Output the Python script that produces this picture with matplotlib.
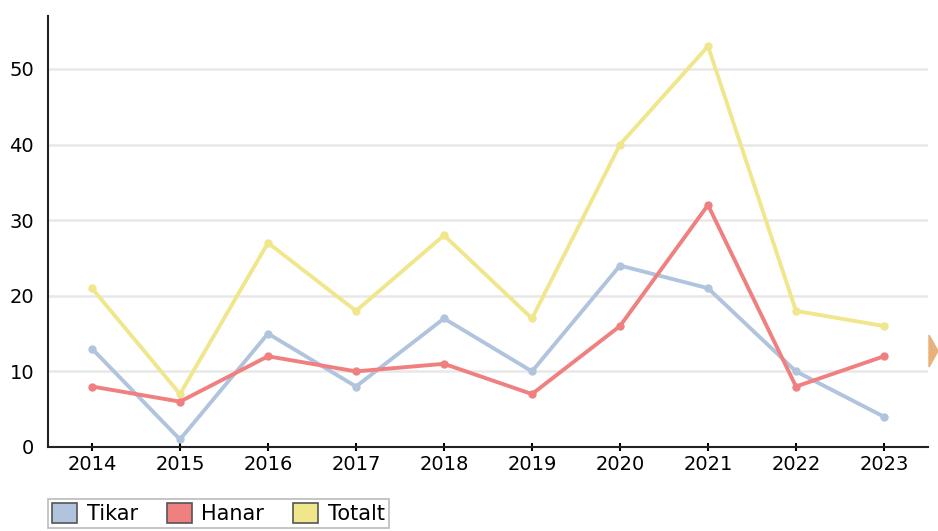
import matplotlib
matplotlib.use("Agg")
import matplotlib.pyplot as plt
from matplotlib.patches import Patch, Polygon

years = ["2014", "2015", "2016", "2017", "2018", "2019", "2020", "2021", "2022", "2023"]
tikar = [13, 1, 15, 8, 17, 10, 24, 21, 10, 4]
hanar = [8, 6, 12, 10, 11, 7, 16, 32, 8, 12]
totalt = [21, 7, 27, 18, 28, 17, 40, 53, 18, 16]

colors = {"Tikar": "#B0C4DE", "Hanar": "#F08080", "Totalt": "#F0E68C"}

fig = plt.figure(figsize=(9.38, 5.31), dpi=100)
ax = fig.add_axes([48 / 938, 1 - 447 / 531, 880 / 938, 431 / 531])

x = list(range(len(years)))
for name, vals in [("Totalt", totalt), ("Tikar", tikar), ("Hanar", hanar)]:
    ax.plot(x, vals, color=colors[name], lw=2.8, marker="o", ms=5,
            solid_joinstyle="round", zorder=3)

ax.set_xlim(-0.5, 9.5)
ax.set_ylim(0, 57)
ax.set_xticks(x)
ax.set_xticklabels(years)
ax.set_yticks([0, 10, 20, 30, 40, 50])
ax.yaxis.grid(True, color="#E8E8E8", lw=1.8)
ax.set_axisbelow(True)
ax.tick_params(axis="y", length=0, pad=10, labelsize=14)
ax.tick_params(axis="x", length=6, width=1.5, direction="inout", pad=3, labelsize=14)
for s in ["top", "right"]:
    ax.spines[s].set_visible(False)
for s in ["left", "bottom"]:
    ax.spines[s].set_linewidth(1.5)
    ax.spines[s].set_color("#222222")

handles = [Patch(facecolor=colors[n], edgecolor="#555555", lw=1.2, label=n)
           for n in ["Tikar", "Hanar", "Totalt"]]
leg = fig.legend(handles=handles, loc="upper left", bbox_to_anchor=(48 / 938, 1 - 499 / 531),
                 ncol=3, frameon=True, fancybox=False, fontsize=15, handlelength=1.2,
                 handleheight=1.1, handletextpad=0.45, columnspacing=1.4, borderpad=0.2,
                 borderaxespad=0)
leg.get_frame().set_edgecolor("#AAAAAA")
leg.get_frame().set_linewidth(1.2)

fig.patches.append(Polygon([[929 / 938, 1 - 335 / 531], [938 / 938, 1 - 351 / 531],
                            [929 / 938, 1 - 367 / 531]], closed=True,
                           transform=fig.transFigure, color="#E8B07A"))

fig.savefig("out.png", dpi=100)
